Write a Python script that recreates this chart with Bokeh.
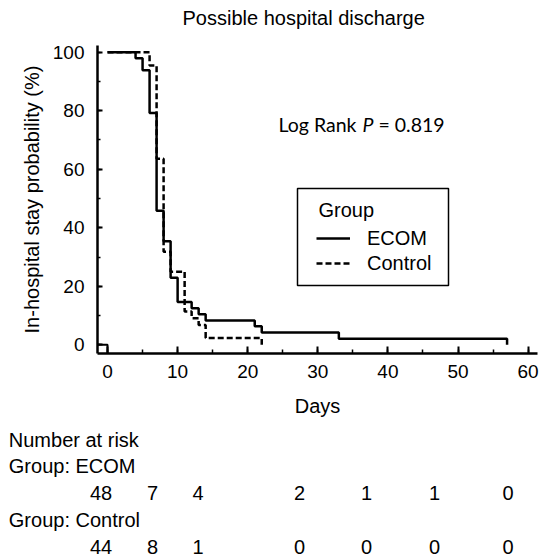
from bokeh.plotting import figure
from bokeh.layouts import column
from bokeh.models import (Range1d, SingleIntervalTicker, Label, Legend,
                          LegendItem, BoxAnnotation, ColumnDataSource)
from bokeh.core.properties import value
from bokeh.embed import file_html
from bokeh.resources import INLINE

# ---------------- data ----------------
title_text = "Possible hospital discharge"
x_label = "Days"
y_label = "In-hospital stay probability (%)"

ecom_days = [0, 4, 5, 6, 7, 8, 9, 10, 12, 13, 14, 21, 22, 33, 57]
ecom_pct = [100, 97.9, 93.8, 79.2, 45.8, 35.4, 22.9, 14.6, 12.5, 10.4, 8.3, 6.3, 4.2, 2.1, 0]

control_days = [0, 6, 7, 8, 9, 11, 12, 13, 14, 22]
control_pct = [100, 95.5, 63.6, 31.8, 25.0, 11.4, 9.1, 6.8, 2.3, 0]

origin_days = [-1.43, 0, 0]
origin_pct = [0, 0, -3]

group_names = ["ECOM", "Control"]
risk_ecom = [48, 7, 4, 2, 1, 1, 0]
risk_control = [44, 8, 1, 0, 0, 0, 0]
logrank_p = "0.819"

# ---------------- layout / style ----------------
FONT = "Liberation Sans"
W = 539
H_TITLE = 38
H_MAIN = 387
H_RISK = 133


def blank_panel(h):
    f = figure(width=W, height=h, output_backend="svg", toolbar_location=None,
               title=None, x_range=Range1d(0, W), y_range=Range1d(h, 0),
               x_axis_type=None, y_axis_type=None,
               min_border_left=0, min_border_right=0, min_border_top=0,
               min_border_bottom=0)
    f.frame_align = False
    f.outline_line_color = None
    f.grid.visible = False
    f.background_fill_color = "white"
    f.border_fill_color = "white"
    return f


# ---- title panel ----
t = blank_panel(H_TITLE)
t.text(x=[182], y=[17], text=[title_text], text_font=value(FONT),
       text_font_size="20px", text_color="black", text_baseline="alphabetic",
       text_align="left")

# ---- main chart ----
p = figure(width=W, height=H_MAIN, output_backend="svg", toolbar_location=None,
           title=None,
           x_range=Range1d(-1.43, 61.34), y_range=Range1d(-2.98, 102.3),
           min_border_left=97, min_border_right=2, min_border_top=7,
           min_border_bottom=72)
p.frame_align = False
p.outline_line_color = None
p.grid.visible = False
p.background_fill_color = "white"
p.border_fill_color = "white"

p.xaxis.ticker = SingleIntervalTicker(interval=10, num_minor_ticks=2)
p.yaxis.ticker = SingleIntervalTicker(interval=20, num_minor_ticks=2)

for ax in (p.xaxis[0], p.yaxis[0]):
    ax.axis_line_width = 2.5
    ax.axis_line_color = "black"
    ax.major_tick_line_color = "black"
    ax.minor_tick_line_color = "black"
    ax.major_tick_line_width = 2
    ax.minor_tick_line_width = 1.5
    ax.major_tick_out = 0
    ax.minor_tick_out = 0
    ax.major_label_text_font = FONT
    ax.major_label_text_font_size = "19px"
    ax.major_label_text_color = "black"
    ax.axis_label_text_font = FONT
    ax.axis_label_text_font_size = "20px"
    ax.axis_label_text_font_style = "normal"
    ax.axis_label_text_color = "black"

p.xaxis.major_tick_in = 7
p.xaxis.minor_tick_in = 4
p.yaxis.major_tick_in = 5
p.yaxis.minor_tick_in = 3
p.xaxis.major_label_standoff = 11
p.yaxis.major_label_standoff = 13
p.xaxis.axis_label = x_label
p.yaxis.axis_label = y_label
p.xaxis.axis_label_standoff = 14
p.yaxis.axis_label_standoff = 7

r_ecom = p.step(ecom_days, ecom_pct, mode="after", line_color="black",
                line_width=2.5)
r_ctrl = p.step(control_days, control_pct, mode="after", line_color="black",
                line_width=2.5, line_dash="6 3")
p.line(origin_days, origin_pct, line_color="black", line_width=2)

# legend
box = BoxAnnotation(left=200, right=351, top=165, bottom=68,
                    left_units="screen", right_units="screen",
                    top_units="screen", bottom_units="screen",
                    fill_color=None, fill_alpha=0, line_color="black",
                    line_alpha=1.0, line_width=1.5)
p.add_layout(box)
p.add_layout(Label(x=221, y=144, x_units="screen", y_units="screen",
                   text="Group", text_font=FONT, text_font_size="20px",
                   text_color="black", text_baseline="alphabetic"))
legend = Legend(items=[LegendItem(label=group_names[0], renderers=[r_ecom]),
                       LegendItem(label=group_names[1], renderers=[r_ctrl])],
                location=(219, 77.5), padding=0, margin=0, spacing=0,
                glyph_width=34, glyph_height=20, label_height=25,
                label_standoff=17, border_line_color=None,
                background_fill_alpha=0, label_text_font=FONT,
                label_text_font_size="20px", label_text_color="black")
p.add_layout(legend)

# log rank text
LR_FONT = "Lato"
LR_SIZE = "19.5px"
LR_Y = 229.5
p.add_layout(Label(x=181, y=LR_Y, x_units="screen", y_units="screen",
                   text="Log Rank", text_font=LR_FONT, text_font_size=LR_SIZE,
                   text_baseline="alphabetic", text_color="black"))
p.add_layout(Label(x=265, y=LR_Y, x_units="screen", y_units="screen",
                   text="P", text_font=LR_FONT, text_font_size=LR_SIZE,
                   text_font_style="italic",
                   text_baseline="alphabetic", text_color="black"))
p.add_layout(Label(x=281, y=LR_Y, x_units="screen", y_units="screen",
                   text="= " + logrank_p, text_font=LR_FONT,
                   text_font_size=LR_SIZE,
                   text_baseline="alphabetic", text_color="black"))

# ---- number at risk table ----
q = blank_panel(H_RISK)

col_x = [100.5, 152, 197.5, 299, 366, 434, 507.5]
row_y = [14, 40.5, 67, 94, 121]
text_x = 8.3

heads = ColumnDataSource(dict(
    x=[text_x] * 3,
    y=[row_y[0], row_y[1], row_y[3]],
    t=["Number at risk", "Group: " + group_names[0], "Group: " + group_names[1]]))
q.text("x", "y", "t", source=heads, text_font=value(FONT),
       text_font_size="20px", text_color="black", text_baseline="alphabetic",
       text_align="left")

nums = ColumnDataSource(dict(
    x=col_x + col_x,
    y=[row_y[2]] * len(risk_ecom) + [row_y[4]] * len(risk_control),
    t=[str(v) for v in risk_ecom] + [str(v) for v in risk_control]))
q.text("x", "y", "t", source=nums, text_font=value(FONT),
       text_font_size="20px", text_color="black", text_baseline="alphabetic",
       text_align="center")

layout = column(t, p, q, spacing=0)
open("out.html", "w").write(file_html(layout, INLINE))
